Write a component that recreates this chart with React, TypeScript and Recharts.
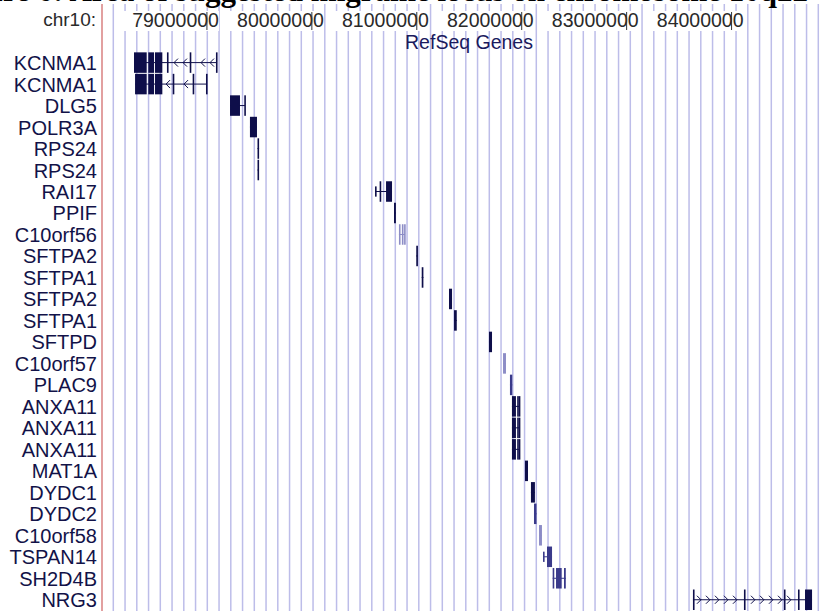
import { Bar, BarChart, CartesianGrid, XAxis, YAxis } from "recharts"

const W = 826
const H = 611

// chr10 window shown in the track (bp)
const VIEW_START = 78000000
const VIEW_END = 84900000
const rulerTicks = [79000000, 80000000, 81000000, 82000000, 83000000, 84000000]

const geneNames = [
	"KCNMA1", "KCNMA1", "DLG5", "POLR3A", "RPS24", "RPS24", "RAI17", "PPIF",
	"C10orf56", "SFTPA2", "SFTPA1", "SFTPA2", "SFTPA1", "SFTPD", "C10orf57",
	"PLAC9", "ANXA11", "ANXA11", "ANXA11", "MAT1A", "DYDC1", "DYDC2",
	"C10orf58", "TSPAN14", "SH2D4B", "NRG3",
]

const txStarts = [
	78305000, 78315000, 79220000, 79410000, 79482000, 79482000, 80602000, 80783000,
	80830000, 80995000, 81047000, 81307000, 81355000, 81688000, 81822000,
	81888000, 81907000, 81907000, 81907000, 82031000, 82088000, 82117000,
	82165000, 82203000, 82295000, 83632000,
]

const txEnds = [
	79093000, 78998000, 79363000, 79477000, 79497000, 79496000, 80764000, 80801000,
	80888000, 81011000, 81063000, 81336000, 81381000, 81717000, 81850000,
	81910000, 81980000, 81980000, 81980000, 82060000, 82126000, 82141000,
	82193000, 82289000, 82420000, 84767000,
]

// coding start; anything before it is drawn as UTR (half height)
const cdsStarts = [...txStarts]
cdsStarts[6] = 80646000
cdsStarts[23] = 82241000

const anxa11Exons = [[81907000, 81945000], [81957000, 81962000], [81972000, 81980000]]

const exonBlocks: number[][][] = [
	[[78305000, 78426000], [78441000, 78496000], [78505000, 78575000], [78619000, 78626000], [78836000, 78843000], [79086000, 79093000]],
	[[78315000, 78426000], [78441000, 78496000], [78505000, 78575000], [78674000, 78681000], [78864000, 78871000], [78991000, 78998000]],
	[[79220000, 79315000], [79356000, 79363000]],
	[[79410000, 79477000]],
	[[79482000, 79497000]],
	[[79482000, 79496000]],
	[[80602000, 80614000], [80646000, 80660000], [80707000, 80764000]],
	[[80783000, 80801000]],
	[[80830000, 80839000], [80858000, 80864000], [80879000, 80888000]],
	[[80995000, 81011000]],
	[[81047000, 81063000]],
	[[81307000, 81336000]],
	[[81355000, 81381000]],
	[[81688000, 81717000]],
	[[81822000, 81850000]],
	[[81888000, 81910000]],
	anxa11Exons,
	anxa11Exons,
	anxa11Exons,
	[[82031000, 82060000]],
	[[82088000, 82126000]],
	[[82117000, 82141000]],
	[[82165000, 82193000]],
	[[82203000, 82212000], [82241000, 82289000]],
	[[82295000, 82308000], [82327000, 82381000], [82403000, 82420000]],
	[[83632000, 83640000], [84118000, 84126000], [84499000, 84507000], [84633000, 84641000], [84700000, 84767000]],
]

const strands = [
	"-", "-", "-", "-", "-", "-", "+", "+", "-", "-", "-", "-", "-", "-", "+",
	"+", "+", "+", "+", "-", "+", "+", "+", "+", "+", "+",
]

const DARK = "#0e0e4a"
const MID = "#3a3a8a"
const LIGHT = "#8c8cc6"
const shades = [
	DARK, DARK, DARK, DARK, DARK, DARK, DARK, DARK, LIGHT, DARK, DARK, DARK, DARK,
	DARK, LIGHT, MID, DARK, DARK, DARK, DARK, DARK, MID, LIGHT, MID, MID, DARK,
]

const rows = geneNames.map((_, i) => i)

const genes = geneNames.map((name, i) => ({
	row: i,
	name,
	span: [txStarts[i], txEnds[i]],
	cdsStart: cdsStarts[i],
	exons: exonBlocks[i],
	strand: strands[i],
	color: shades[i],
}))

const SANS = "'Liberation Sans', Arial, sans-serif"
const GRID_COLOR = "#bdbde9"

function GeneGlyph(props: any) {
	const { x, y, width, height, payload } = props
	const [start, end] = payload.span
	const toX = (bp: number) => x + ((bp - start) / (end - start)) * width
	const mid = y + height / 2
	const color = payload.color
	const blocks = payload.exons.map(([s, e]: number[]) => {
		const x0 = toX(s)
		const w = Math.max(1.6, toX(e) - x0)
		const utr = e <= payload.cdsStart
		const h = utr ? height / 2 : height
		return { x0, w, y0: mid - h / 2, h }
	})
	const chevrons: number[] = []
	for (let c = x + 6; c < x + width - 3; c += 9) {
		if (blocks.some((b: any) => c > b.x0 - 3 && c < b.x0 + b.w + 3)) continue
		chevrons.push(c)
	}
	return (
		<g>
			<line x1={x} x2={x + width} y1={mid} y2={mid} stroke={color} strokeWidth={1} />
			{chevrons.map((c) => (
				<polyline
					key={c}
					points={
						payload.strand === "-"
							? `${c + 2},${mid - 4} ${c - 2},${mid} ${c + 2},${mid + 4}`
							: `${c - 2},${mid - 4} ${c + 2},${mid} ${c - 2},${mid + 4}`
					}
					fill="none"
					stroke={color}
					strokeWidth={1}
				/>
			))}
			{blocks.map((b: any, k: number) => (
				<rect key={k} x={b.x0} y={b.y0} width={b.w} height={b.h} fill={color} />
			))}
		</g>
	)
}

function GeneLabel(props: any) {
	const { y, payload } = props
	return (
		<text x={97} y={y} textAnchor="end" dominantBaseline="central" fontSize={20} fontFamily={SANS} fill="#121248">
			{geneNames[payload.value]}
		</text>
	)
}

function RulerTick(props: any) {
	const { x, payload } = props
	return (
		<g>
			<rect x={x - 86} y={11} width={98} height={20} fill="#fff" />
			<text x={x + 12} y={27} textAnchor="end" fontSize={19.5} fontFamily={SANS} fill="#2a2a2a">
				{payload.value}
			</text>
			<line x1={x} x2={x} y1={12} y2={30} stroke="#333" strokeWidth={1} />
		</g>
	)
}

// UCSC-style guidelines, one every ~12 px across the track
function guidelines({ offset }: any) {
	const xs: number[] = []
	for (let gx = offset.left + 11.3; gx < offset.left + offset.width; gx += 11.75) xs.push(gx)
	return xs
}

export default function App() {
	return (
		<div style={{ position: "absolute", left: 0, top: 0, width: W, height: H, overflow: "hidden", background: "#fff" }}>
			<BarChart
				width={W}
				height={H}
				data={genes}
				layout="vertical"
				margin={{ top: 0, right: 0, bottom: 0, left: 0 }}
				style={{ position: "absolute", left: 0, top: 0 }}
			>
				<CartesianGrid horizontal={false} stroke={GRID_COLOR} strokeWidth={1.5} verticalCoordinatesGenerator={guidelines} />
				<XAxis
					type="number"
					orientation="top"
					domain={[VIEW_START, VIEW_END]}
					allowDataOverflow
					height={4}
					ticks={rulerTicks}
					interval={0}
					axisLine={false}
					tickLine={false}
					tick={<RulerTick />}
				/>
				<YAxis
					type="number"
					dataKey="row"
					domain={[-2.75, 25.5]}
					allowDataOverflow
					width={102}
					ticks={rows}
					interval={0}
					tickLine={false}
					axisLine={{ stroke: "#d98080", strokeWidth: 1.5 }}
					tick={<GeneLabel />}
				/>
				<Bar dataKey="span" barSize={20.5} shape={<GeneGlyph />} isAnimationActive={false} />
			</BarChart>
			<div
				style={{
					position: "absolute",
					right: 18,
					top: -25,
					fontFamily: "'Liberation Serif', 'Times New Roman', serif",
					fontWeight: "bold",
					fontSize: 31,
					lineHeight: "31px",
					whiteSpace: "nowrap",
					color: "#000",
				}}
			>
				Figure 6: Area of suggested migraine locus on chromosome 10q22
			</div>
			<div style={{ position: "absolute", right: W - 96, top: 9, fontFamily: SANS, fontSize: 19, color: "#2a2a2a" }}>chr10:</div>
			<div
				style={{
					position: "absolute",
					left: 469,
					top: 31,
					transform: "translateX(-50%)",
					fontFamily: SANS,
					fontSize: 19.5,
					color: "#1a1a5e",
					whiteSpace: "nowrap",
				}}
			>
				RefSeq Genes
			</div>
		</div>
	)
}
